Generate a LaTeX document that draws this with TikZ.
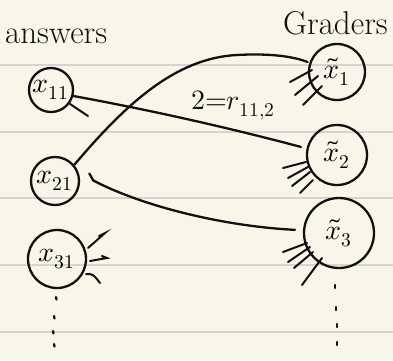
\documentclass[tikz,border=0pt]{standalone}
\usepackage{unicode-math}
\setmathfont{Latin Modern Math}
\usetikzlibrary{calc}
\definecolor{paper}{HTML}{F8F6E8}
\definecolor{rule}{HTML}{D4D4D2}
\definecolor{ink}{HTML}{111111}
\begin{document}
\begin{tikzpicture}[x=1pt,y=-1pt,
  ink/.style={draw=ink,line width=2.3pt,line cap=round,line join=round},
  bubble/.style={ink,circle,inner sep=0pt,font=\fontsize{28}{28}\selectfont},
  link/.style={ink},
  ray/.style={draw=ink,line width=2pt,line cap=round},
  head/.style={font=\fontsize{33}{33}\selectfont,inner sep=0pt,text=ink},
  tick/.style={draw=ink,line width=2.3pt,line cap=round}]
  % paper and ruling
  \fill[paper] (0,0) rectangle (393,360);
  \useasboundingbox (0,0) rectangle (393,360);
  \foreach \y in {65,132,198,265,332}
    \draw[rule,line width=1.6pt] (0,\y) -- (393,\y);

  % column headings
  \node[head,anchor=base west] (ans) at (5,43) {answers};
  \node[head,anchor=base west] (grd) at (283,34) {Graders};

  % answers
  \node[bubble,minimum size=44pt] (x11) at (51,90)  {$x_{11}$};
  \node[bubble,minimum size=48pt] (x21) at (55,181) {$x_{21}$};
  \node[bubble,minimum size=58pt] (x31) at (57,259) {$x_{31}$};

  % graders
  \node[bubble,minimum size=56pt] (g1) at (337,72)  {$\tilde{x}_1$};
  \node[bubble,minimum size=60pt] (g2) at (337,155) {$\tilde{x}_2$};
  \node[bubble,minimum size=70pt] (g3) at (339,233) {$\tilde{x}_3$};

  % edge label
  \node[font=\fontsize{28}{28}\selectfont,inner sep=0pt,text=ink] (lbl) at (233,106) {$2{=}r_{11,2}$};

  % assignments
  \draw[link] (x11.-15) .. controls (150,110) and (230,128) .. ([xshift=-6pt]g2.165);
  \draw[link] (x21.40) .. controls (125,105) and (175,58) .. (237,55)
                       .. controls (272,53) and (295,57) .. ([xshift=-2pt]g1.160);
  \path (x21.15) ++(10,-1) coordinate (hk);
  \draw[link] (hk) -- ++(4,7) .. controls (140,205) and (220,226) .. ([xshift=-8pt]g3.175);

  % loose strokes around the bubbles
  \draw[ray] ($(x11)+(19,14)$) -- ($(x11)+(37,26)$);

  \draw[ray] ($(x31)+(31,-11)$) -- ($(x31)+(48,-26)$) -- ($(x31)+(42,-23)$);
  \draw[ray] ($(x31)+(33,2)$) -- ($(x31)+(50,-1)$) -- ($(x31)+(45,-3)$);
  \draw[ray] ($(x31)+(29,15)$) .. controls ($(x31)+(36,15)$) .. ($(x31)+(43,24)$);

  \draw[ray] ($(g1)+(-47,10)$) -- ($(g1)+(-25,-2)$);
  \draw[ray] ($(g1)+(-42,23)$) -- ($(g1)+(-19,4)$);
  \draw[ray] ($(g1)+(-34,33)$) -- ($(g1)+(-15,14)$);

  \draw[ray] ($(g2)+(-54,13)$) -- ($(g2)+(-31,7)$);
  \draw[ray] ($(g2)+(-49,23)$) -- ($(g2)+(-29,12)$);
  \draw[ray] ($(g2)+(-45,31)$) -- ($(g2)+(-27,17)$);
  \draw[ray] ($(g2)+(-37,38)$) -- ($(g2)+(-24,25)$);

  \draw[ray] ($(g3)+(-56,19)$) -- ($(g3)+(-32,10)$);
  \draw[ray] ($(g3)+(-51,29)$) -- ($(g3)+(-29,14)$);
  \draw[ray] ($(g3)+(-45,35)$) -- ($(g3)+(-26,19)$);
  \draw[ray] ($(g3)+(-37,52)$) -- ($(g3)+(-17,25)$);

  % continuation marks
  \foreach \p in {(56,297),(54,316),(53,331),(54,344)}
    \draw[tick] \p -- ++(0.5,2.5);
  \foreach \p in {(335,285),(336,307),(337,324),(337,342)}
    \draw[tick] \p -- ++(0,3);
\end{tikzpicture}
\end{document}
